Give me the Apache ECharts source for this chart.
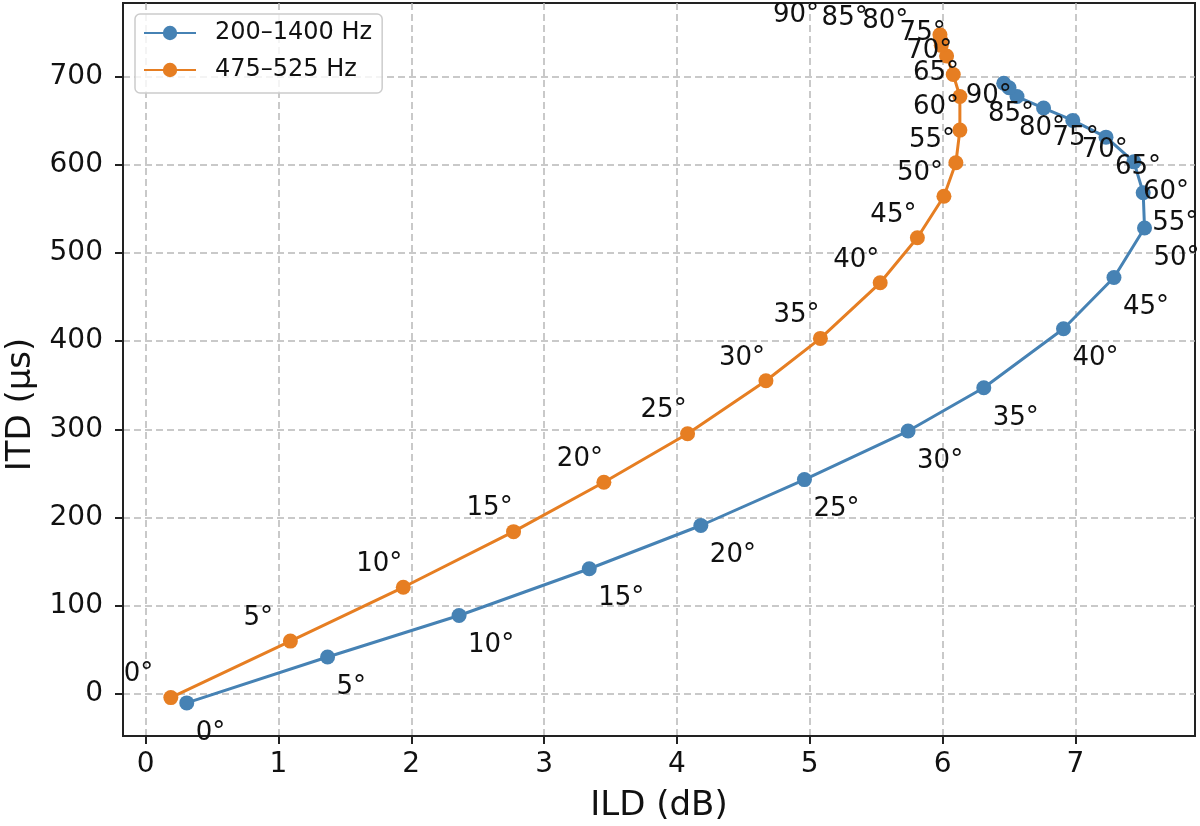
<!DOCTYPE html>
<html>
<head>
<meta charset="utf-8">
<script src="https://cdn.jsdelivr.net/npm/echarts@6/dist/echarts.min.js"></script>
<style>
  html, body { margin: 0; padding: 0; background: #fff; }
  #main { width: 1200px; height: 826px; }
</style>
</head>
<body>
<div id="main"></div>
<script>
// azimuth of each point (deg)
var angles = [0, 5, 10, 15, 20, 25, 30, 35, 40, 45, 50, 55, 60, 65, 70, 75, 80, 85, 90];

// 200-1400 Hz band
var wideILD = [0.31, 1.37, 2.36, 3.34, 4.18, 4.96, 5.74, 6.31, 6.91, 7.29, 7.52, 7.51, 7.44, 7.23, 6.98, 6.76, 6.56, 6.50, 6.46];
var wideITD = [-10, 42, 89, 142, 191, 243, 298, 347, 414, 472, 528, 568, 603, 631, 650, 664, 677, 687, 692];

// 475-525 Hz band
var narrowILD = [0.19, 1.09, 1.94, 2.77, 3.45, 4.08, 4.67, 5.08, 5.53, 5.81, 6.01, 6.10, 6.13, 6.13, 6.08, 6.03, 5.99, 5.985, 5.98];
var narrowITD = [-4, 60, 121, 184, 240, 295, 355, 403, 466, 517, 564, 602, 639, 677, 702, 723, 735, 741, 747];

// label nudges where the text was pushed apart in the original
var wideLabelShift = { 16: [2, 32], 17: [-21, 27], 18: [-38, 13] };
var narrowLabelShift = { 16: [-79, -24], 17: [-119, -22], 18: [-167, -20] };

var FONT = 'DejaVu Sans';

function buildData(xs, ys, shifts) {
    var out = [];
    for (var i = 0; i < xs.length; i++) {
        var item = { value: [xs[i], ys[i]] };
        if (shifts[i]) item.label = { offset: shifts[i] };
        out.push(item);
    }
    return out;
}

function degLabel(p) {
    return angles[p.dataIndex] + '°';
}

var chart = echarts.init(document.getElementById('main'));

var axisCommon = {
    type: 'value',
    splitNumber: 8,
    axisLine: { show: true, onZero: false, lineStyle: { color: '#222', width: 2 } },
    axisTick: { show: true, length: 8, lineStyle: { color: '#222', width: 2 } },
    splitLine: {
        show: true, showMinLine: false, showMaxLine: false,
        lineStyle: { color: '#b8b8b8', width: 1.5, type: [7, 4] }
    },
    nameLocation: 'middle'
};

var option = {
    animation: false,
    backgroundColor: '#fff',
    textStyle: { fontFamily: FONT },
    grid: {
        left: 123, right: 5, top: 3, bottom: 90,
        outerBoundsMode: 'none',
        show: true, borderColor: '#222', borderWidth: 2
    },
    legend: {
        orient: 'vertical',
        left: 135, top: 14,
        padding: [5, 10, 9, 8],
        itemWidth: 52, itemHeight: 18, itemGap: 9,
        backgroundColor: 'rgba(255,255,255,0.8)',
        borderColor: '#cccccc', borderWidth: 1.5, borderRadius: 5,
        textStyle: { fontFamily: FONT, fontSize: 24, color: '#111', lineHeight: 28, padding: [0, 0, 0, 14] },
        data: ['200–1400 Hz', '475–525 Hz']
    },
    xAxis: Object.assign({}, axisCommon, {
        min: -0.17, max: 7.9,
        name: 'ILD (dB)', nameGap: 53,
        nameTextStyle: { fontFamily: FONT, fontSize: 34, color: '#111' },
        axisLabel: { fontFamily: FONT, fontSize: 28, color: '#111', margin: 15, showMinLabel: false, showMaxLabel: false }
    }),
    yAxis: Object.assign({}, axisCommon, {
        min: -47.5, max: 783,
        name: 'ITD (μs)', nameGap: 76,
        nameTextStyle: { fontFamily: FONT, fontSize: 34, color: '#111', padding: [0, 70, 0, 0] },
        axisLabel: { fontFamily: FONT, fontSize: 28, color: '#111', margin: 20, showMinLabel: false, showMaxLabel: false }
    }),
    series: [
        {
            name: '200–1400 Hz',
            type: 'line',
            symbol: 'circle',
            symbolSize: 15,
            color: '#4682b4',
            lineStyle: { width: 3, color: '#4682b4' },
            itemStyle: { color: '#4682b4' },
            label: {
                show: true, position: 'inside', align: 'left', verticalAlign: 'middle',
                offset: [9, 30], formatter: degLabel,
                fontFamily: FONT, fontSize: 26, color: '#111'
            },
            data: buildData(wideILD, wideITD, wideLabelShift)
        },
        {
            name: '475–525 Hz',
            type: 'line',
            symbol: 'circle',
            symbolSize: 15,
            color: '#e67e22',
            lineStyle: { width: 3, color: '#e67e22' },
            itemStyle: { color: '#e67e22' },
            label: {
                show: true, position: 'inside', align: 'left', verticalAlign: 'middle',
                offset: [-47, -23], formatter: degLabel,
                fontFamily: FONT, fontSize: 26, color: '#111'
            },
            data: buildData(narrowILD, narrowITD, narrowLabelShift)
        }
    ]
};

chart.setOption(option);
</script>
</body>
</html>
